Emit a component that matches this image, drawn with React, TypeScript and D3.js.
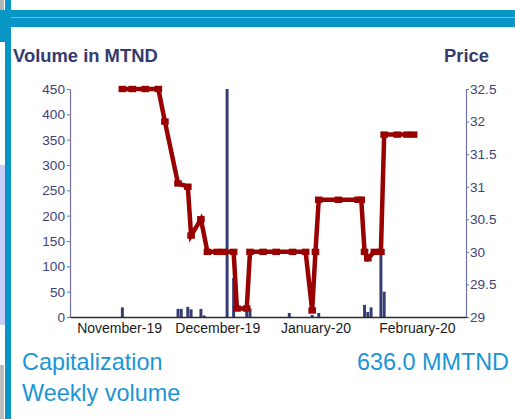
import React, { useEffect, useRef } from 'react';
import * as d3 from 'd3';

const volDates = ['2019-11-17', '2019-12-04', '2019-12-05', '2019-12-07', '2019-12-08', '2019-12-11', '2019-12-12', '2019-12-19', '2019-12-21', '2019-12-25', '2019-12-26', '2020-01-07', '2020-01-14', '2020-01-16', '2020-01-30', '2020-01-31', '2020-02-01', '2020-02-04', '2020-02-05'];
const volValues = [19, 16, 16, 20, 15, 16, 3, 450, 77, 14, 17, 8, 4, 8, 24, 10, 19, 124, 50];

const priceDates = ['2019-11-17', '2019-11-20', '2019-11-24', '2019-11-28', '2019-11-30', '2019-12-04', '2019-12-07', '2019-12-08', '2019-12-11', '2019-12-13', '2019-12-16', '2019-12-18', '2019-12-21', '2019-12-22', '2019-12-25', '2019-12-26', '2019-12-30', '2020-01-03', '2020-01-08', '2020-01-12', '2020-01-14', '2020-01-15', '2020-01-16', '2020-01-22', '2020-01-28', '2020-01-29', '2020-01-30', '2020-01-31', '2020-02-02', '2020-02-04', '2020-02-05', '2020-02-09', '2020-02-12', '2020-02-14'];
const priceValues = [32.5, 32.5, 32.5, 32.5, 32.0, 31.05, 31.0, 30.25, 30.5, 30.0, 30.0, 30.0, 30.0, 29.13, 29.13, 30.0, 30.0, 30.0, 30.0, 30.0, 29.1, 30.0, 30.8, 30.8, 30.8, 30.8, 30.0, 29.9, 30.0, 30.0, 31.8, 31.8, 31.8, 31.8];

const monthTicks = ['2019-11-16', '2019-12-16', '2020-01-15', '2020-02-15'];
const monthLabels = ['November-19', 'December-19', 'January-20', 'February-20'];
const volTicks = [0, 50, 100, 150, 200, 250, 300, 350, 400, 450];
const priceTicks = [29, 29.5, 30, 30.5, 31, 31.5, 32, 32.5];

const FONT = 'Arial, "Liberation Sans", sans-serif';

const App = () => {
  const svgRef = useRef(null);
  const width = 515;
  const height = 419;

  useEffect(() => {
    const svg = d3.select(svgRef.current);
    svg.selectAll('*').remove();
    const parse = d3.utcParse('%Y-%m-%d');

    // frame
    svg.append('rect').attr('x', 0).attr('y', 0).attr('width', width).attr('height', height).attr('fill', '#fff');
    svg.append('rect').attr('x', 0).attr('y', 0).attr('width', 4).attr('height', 10).attr('fill', '#b4b4b4');
    svg.append('rect').attr('x', 0).attr('y', 165).attr('width', 5).attr('height', 160).attr('fill', '#c8d0fa');
    svg.append('rect').attr('x', 0).attr('y', 365).attr('width', 4).attr('height', 54).attr('fill', '#bdbdbd');
    svg.append('rect').attr('x', 0).attr('y', 10).attr('width', width).attr('height', 17).attr('fill', '#0796c5');
    svg.append('rect').attr('x', 0).attr('y', 10).attr('width', 11).attr('height', 32).attr('fill', '#0796c5');
    svg.append('rect').attr('x', 5).attr('y', 0).attr('width', 6).attr('height', height).attr('fill', '#0796c5');
    svg.append('rect').attr('x', 11).attr('y', 17).attr('width', width - 11).attr('height', 1).attr('fill', '#62bde0');

    const x = d3.scaleUtc()
      .domain([parse('2019-11-01'), parse('2020-03-01')])
      .range([70, 466]);
    const yVol = d3.scaleLinear().domain([0, 450]).range([317, 89]);
    const yPrice = d3.scaleLinear().domain([29, 32.5]).range([317, 89]);

    const dayW = x(parse('2019-11-02')) - x(parse('2019-11-01'));
    const barW = dayW * 0.9;

    // titles
    svg.append('text').attr('x', 13).attr('y', 62).text('Volume in MTND')
      .style('font-family', FONT).style('font-weight', 'bold').style('font-size', '18.4px').attr('fill', '#353b6e');
    svg.append('text').attr('x', 489).attr('y', 62).attr('text-anchor', 'end').text('Price')
      .style('font-family', FONT).style('font-weight', 'bold').style('font-size', '18.4px').attr('fill', '#353b6e');

    // bars
    svg.append('g').selectAll('rect')
      .data(volDates.map((d, i) => ({ date: parse(d), v: volValues[i] })))
      .enter()
      .append('rect')
      .attr('x', d => x(d.date) - barW / 2)
      .attr('y', d => yVol(d.v))
      .attr('width', barW)
      .attr('height', d => yVol(0) - yVol(d.v))
      .attr('fill', '#343c74');

    // axes
    const leftAxis = svg.append('g').attr('transform', 'translate(70,0)')
      .call(d3.axisLeft(yVol).tickValues(volTicks).tickSize(3).tickPadding(2).tickSizeOuter(0));
    const rightAxis = svg.append('g').attr('transform', 'translate(466,0)')
      .call(d3.axisRight(yPrice).tickValues(priceTicks).tickSize(3).tickPadding(1).tickSizeOuter(0).tickFormat(d => String(d)));
    [leftAxis, rightAxis].forEach(a => {
      a.select('.domain').attr('stroke', '#6d72a3').attr('stroke-width', 1.2);
      a.selectAll('.tick line').attr('stroke', '#6d72a3');
      a.selectAll('text').style('font-family', FONT).style('font-size', '13.6px').attr('fill', '#3d4379');
    });

    const bottomAxis = svg.append('g').attr('transform', 'translate(0,317)')
      .call(d3.axisBottom(x).tickValues(monthTicks.map(parse)).tickSize(0).tickPadding(6)
        .tickFormat((d, i) => monthLabels[i]));
    bottomAxis.select('.domain').attr('stroke', '#2a2a2a').attr('stroke-width', 1.3);
    bottomAxis.selectAll('text').style('font-family', FONT).style('font-size', '14px').attr('fill', '#1a1a1a');

    // price line
    const pts = priceDates.map((d, i) => ({ date: parse(d), p: priceValues[i] }));
    const line = d3.line()
      .x(d => x(d.date))
      .y(d => yPrice(d.p));
    svg.append('path')
      .datum(pts)
      .attr('d', line)
      .attr('fill', 'none')
      .attr('stroke', '#990000')
      .attr('stroke-width', 4.5)
      .attr('stroke-linejoin', 'miter');
    svg.append('g').selectAll('rect')
      .data(pts)
      .enter()
      .append('rect')
      .attr('x', d => x(d.date) - 3.8)
      .attr('y', d => yPrice(d.p) - 3.2)
      .attr('width', 7.6)
      .attr('height', 6.4)
      .attr('fill', '#990000');

    // footer
    const foot = [
      { t: 'Capitalization', x: 22, y: 370, a: 'start' },
      { t: '636.0 MMTND', x: 509, y: 370, a: 'end' },
      { t: 'Weekly volume', x: 22, y: 401, a: 'start' },
    ];
    svg.append('g').selectAll('text')
      .data(foot)
      .enter()
      .append('text')
      .attr('x', d => d.x)
      .attr('y', d => d.y)
      .attr('text-anchor', d => d.a)
      .text(d => d.t)
      .style('font-family', FONT)
      .style('font-size', '23.4px')
      .attr('fill', '#1b95d6');
  }, []);

  return (
    <svg ref={svgRef} width={width} height={height}
      style={{ position: 'absolute', left: 0, top: 0, display: 'block' }}></svg>
  );
};

export default App;
